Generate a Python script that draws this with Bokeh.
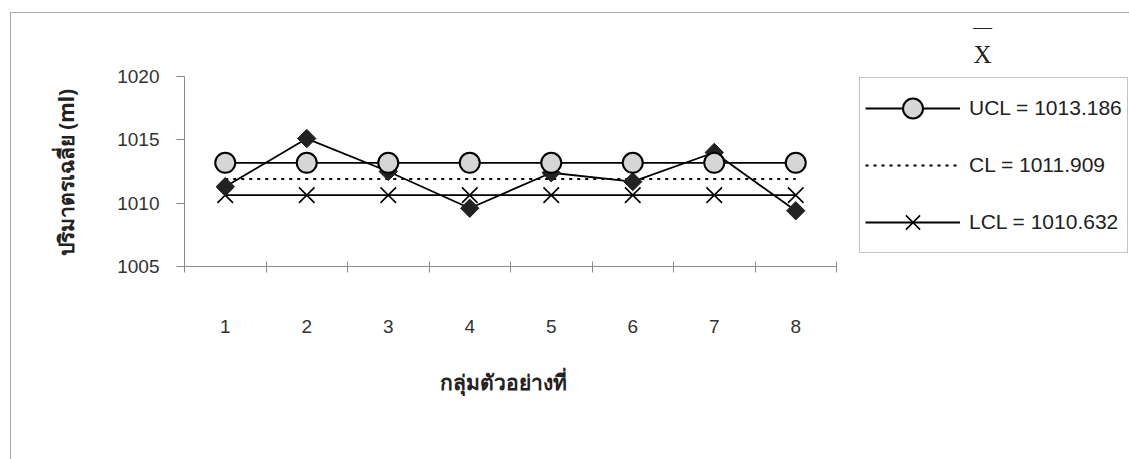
import numpy as np
from bokeh.plotting import figure
from bokeh.models import (ColumnDataSource, Legend, LegendItem, FixedTicker, Label,
                          Range1d)
from bokeh.embed import file_html
from bokeh.resources import INLINE

groups = [1, 2, 3, 4, 5, 6, 7, 8]
tick_labels = ["1", "2", "3", "4", "5", "6", "7", "8"]
xbar = [1011.3, 1015.1, 1012.5, 1009.6, 1012.4, 1011.7, 1014.0, 1009.4]
ucl_value = 1013.186
cl_value = 1011.909
lcl_value = 1010.632
y_ticks = [1005, 1010, 1015, 1020]
x_title = "กลุ่มตัวอย่างที่"
y_title = "ปริมาตรเฉลี่ย (ml)"

src = ColumnDataSource(dict(
    x=groups,
    xbar=xbar,
    ucl=[ucl_value] * len(groups),
    cl=[cl_value] * len(groups),
    lcl=[lcl_value] * len(groups),
))

# the plot frame covers the whole figure; the chart part is page x 183..835, y 75..265
px_per_x = 81.5
px_per_y = 12.667


def xd(px):
    return 0.5 + (px - 183) / px_per_x


def yd(py):
    return 1005 + (265 - py) / px_per_y


AXC = "#8a8a8a"
FONT = "Liberation Sans"
THAI = "Noto Sans"
BORDER = "1px solid #a8a8a8"

p = figure(width=1119, height=447, output_backend="svg", toolbar_location=None,
           x_range=Range1d(xd(10), xd(1129)), y_range=Range1d(yd(459), yd(12)),
           min_border_left=0, min_border_right=0, min_border_top=0,
           min_border_bottom=0)
p.margin = (12, 0, 0, 10)
p.styles = {"border-left": BORDER, "border-top": BORDER}
p.outline_line_color = None
p.grid.grid_line_color = None
p.background_fill_color = "white"
p.border_fill_color = "white"

# x axis
p.xaxis.fixed_location = 1005
p.xaxis.bounds = (0.5, 8.5)
p.xaxis.ticker = FixedTicker(ticks=groups, minor_ticks=[g + 0.5 for g in [0] + groups])
p.xaxis.major_label_overrides = {g: t for g, t in zip(groups, tick_labels)}
p.xaxis.major_tick_line_color = None
p.xaxis.minor_tick_line_color = AXC
p.xaxis.minor_tick_in = 5
p.xaxis.minor_tick_out = 6
p.xaxis.axis_line_color = AXC
p.xaxis.major_label_standoff = 47
p.xaxis.major_label_text_font = FONT
p.xaxis.major_label_text_font_size = "19px"
p.xaxis.major_label_text_color = "#333333"

# y axis
p.yaxis.fixed_location = 0.5
p.yaxis.bounds = (1005, 1020)
p.yaxis.ticker = FixedTicker(ticks=y_ticks, minor_ticks=[])
p.yaxis.major_tick_in = 0
p.yaxis.major_tick_out = 8
p.yaxis.major_tick_line_color = AXC
p.yaxis.axis_line_color = AXC
p.yaxis.minor_tick_line_color = None
p.yaxis.major_label_standoff = 17
p.yaxis.major_label_text_font = FONT
p.yaxis.major_label_text_font_size = "19px"
p.yaxis.major_label_text_color = "#333333"

# axis titles
p.add_layout(Label(x=xd(502), y=yd(380), text=x_title, text_font=THAI,
                   text_font_size="21px", text_font_style="bold",
                   text_align="center", text_baseline="middle", text_color="#222222"))
p.add_layout(Label(x=xd(64), y=yd(171), text=y_title, text_font=THAI, angle=np.pi / 2,
                   text_font_size="21px", text_font_style="bold",
                   text_align="center", text_baseline="middle", text_color="#222222"))

# control lines
LINE_STYLE = dict(line_color="black", line_width=1.8)
lcl_line = p.line("x", "lcl", source=src, **LINE_STYLE)
lcl_mark = p.scatter("x", "lcl", source=src, marker="x", size=22, line_color="black",
                     line_width=1.6)
cl_line = p.line("x", "cl", source=src, line_color="black", line_width=1.8,
                 line_dash="3 5")

# data
p.line("x", "xbar", source=src, **LINE_STYLE)
p.scatter("x", "xbar", source=src, marker="square", angle=np.pi / 4, size=13,
          fill_color="#222222", line_color="#222222")

ucl_line = p.line("x", "ucl", source=src, **LINE_STYLE)
ucl_mark = p.scatter("x", "ucl", source=src, marker="circle", size=20,
                     fill_color="#d6d6d6", line_color="black", line_width=2)

legend = Legend(items=[
    LegendItem(label=f"UCL = {ucl_value:.3f}", renderers=[ucl_line, ucl_mark]),
    LegendItem(label=f"CL = {cl_value:.3f}", renderers=[cl_line]),
    LegendItem(label=f"LCL = {lcl_value:.3f}", renderers=[lcl_line, lcl_mark]),
], location=(858 - 10, 459 - 252))
legend.glyph_width = 95
legend.glyph_height = 50
legend.label_height = 50
legend.spacing = 7
legend.padding = 5
legend.margin = 0
legend.label_standoff = 9
legend.label_text_font = FONT
legend.label_text_font_size = "21px"
legend.label_text_color = "#222222"
legend.border_line_color = AXC
legend.border_line_width = 1.5
legend.background_fill_alpha = 1
p.add_layout(legend, "center")

# chart title (X bar)
p.add_layout(Label(x=xd(981), y=yd(53), text="X", text_font="Liberation Serif",
                   text_font_size="25px", text_align="center", text_baseline="middle",
                   text_color="#222222"))
p.add_layout(Label(x=xd(981), y=yd(25), text="—", text_font="Liberation Serif",
                   text_font_size="19px", text_align="center", text_baseline="middle",
                   text_color="#222222"))

open("out.html", "w").write(file_html(p, INLINE))
